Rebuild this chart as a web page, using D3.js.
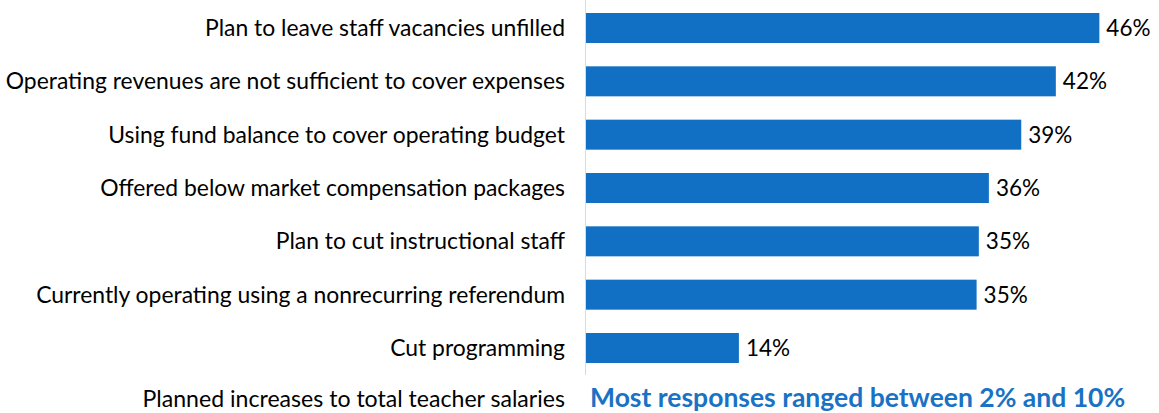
<!DOCTYPE html>
<head>
  <meta charset="utf-8">
  <script src="https://d3js.org/d3.v7.min.js"></script>
  <style>
    body { margin:0; background:#fff; }
    .catLabel, .valLabel, .noteLabel { font-family: Lato, "Open Sans", sans-serif; fill:#000; }
  </style>
</head>
<body>
  <script>
    var width = 1159, height = 413;

    // data
    var categories = [
      "Plan to leave staff vacancies unfilled",
      "Operating revenues are not sufficient to cover expenses",
      "Using fund balance to cover operating budget",
      "Offered below market compensation packages",
      "Plan to cut instructional staff",
      "Currently operating using a nonrecurring referendum ",
      "Cut programming"
    ];
    var percents = [46.0, 42.1, 39.0, 36.1, 35.2, 35.0, 13.7];
    var noteCategory = "Planned increases to total teacher salaries";
    var noteText = "Most responses ranged between 2% and 10%";

    var data = categories.map(function(c, i){ return {cat: c, val: percents[i]}; });

    var xLeft = 586;
    var xScale = d3.scaleLinear().domain([0, 50]).range([xLeft, xLeft + 558]);
    var yScale = d3.scaleBand()
      .domain(categories)
      .range([1.33, 374.67])
      .paddingInner(0.4375)
      .paddingOuter(0.21875);

    var svg = d3.select('body').append('svg')
      .attr('width', width)
      .attr('height', height);

    // vertical axis line
    svg.append('line')
      .attr('x1', xLeft - 0.5).attr('x2', xLeft - 0.5)
      .attr('y1', 0).attr('y2', 375)
      .attr('stroke', '#d9d9d9')
      .attr('stroke-width', 1);

    svg.selectAll('.bar')
      .data(data)
      .enter().append('rect')
      .attr('class', 'bar')
      .attr('x', xScale(0))
      .attr('y', d => yScale(d.cat))
      .attr('width', d => xScale(d.val) - xScale(0))
      .attr('height', yScale.bandwidth())
      .attr('fill', '#1170c4');

    svg.selectAll('.catLabel')
      .data(data)
      .enter().append('text')
      .attr('class', 'catLabel')
      .attr('x', 565)
      .attr('y', d => yScale(d.cat) + yScale.bandwidth()/2)
      .attr('dy', '0.35em')
      .attr('text-anchor', 'end')
      .style('font-size', '22.9px')
      .text(d => d.cat);

    svg.selectAll('.valLabel')
      .data(data)
      .enter().append('text')
      .attr('class', 'valLabel')
      .attr('x', d => xScale(d.val) + 7)
      .attr('y', d => yScale(d.cat) + yScale.bandwidth()/2)
      .attr('dy', '0.35em')
      .style('font-size', '22.5px')
      .text(d => d3.format('.0f')(d.val) + '%');

    // bottom note row (baseline near the bottom edge, as in the source)
    svg.append('text')
      .attr('class', 'noteLabel')
      .attr('x', 565)
      .attr('y', 407)
      .attr('text-anchor', 'end')
      .style('font-size', '23.1px')
      .text(noteCategory);

    svg.append('text')
      .attr('x', 590)
      .attr('y', 407)
      .style('font-family', 'Lato, "Open Sans", sans-serif')
      .style('font-weight', 'bold')
      .style('font-size', '26.5px')
      .attr('fill', '#1a72c4')
      .text(noteText);
  </script>
</body>
